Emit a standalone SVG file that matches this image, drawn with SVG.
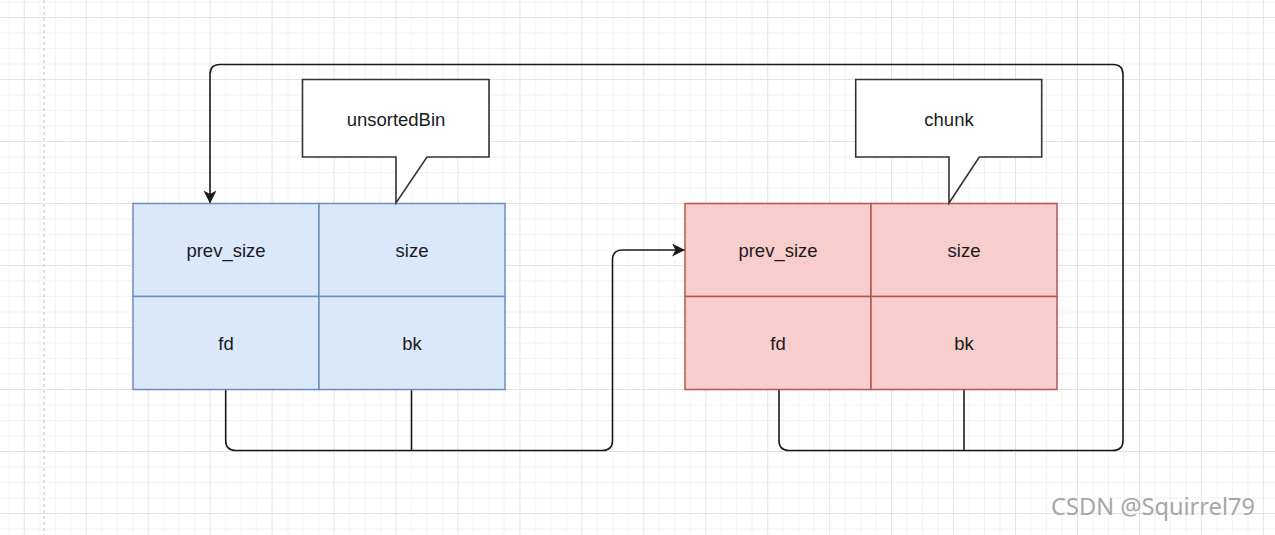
<svg xmlns="http://www.w3.org/2000/svg" width="1275" height="535" viewBox="0 0 1275 535">
<style>
.cellB{fill:#dae8fc;stroke:#6c8ebf;stroke-width:1.5}
.cellR{fill:#f8cecc;stroke:#b85450;stroke-width:1.5}
.lbl{font-family:"Liberation Sans",Arial,sans-serif;font-size:18.5px;fill:#1a1a1a;text-anchor:middle;dominant-baseline:central}
.callout{fill:#ffffff;stroke:#333333;stroke-width:1.6}
.edge{fill:none;stroke:#1a1a1a;stroke-width:1.6}
.wm{font-family:"Noto Sans","DejaVu Sans",sans-serif;font-size:23.6px;fill:#a6a6a6;stroke:#ffffff;stroke-width:0.6;paint-order:stroke;text-anchor:end}
</style>
<defs>
<pattern id="grid" patternUnits="userSpaceOnUse" x="23.8" y="17" width="61.95" height="62">
<rect x="15.49" y="0" width="1" height="62" fill="#f2f2f2"/>
<rect x="30.98" y="0" width="1" height="62" fill="#f2f2f2"/>
<rect x="46.46" y="0" width="1" height="62" fill="#f2f2f2"/>
<rect x="0" y="15.5" width="61.95" height="1" fill="#f2f2f2"/>
<rect x="0" y="31" width="61.95" height="1" fill="#f2f2f2"/>
<rect x="0" y="46.5" width="61.95" height="1" fill="#f2f2f2"/>
<rect x="0" y="0" width="1" height="62" fill="#e3e3e3"/>
<rect x="0" y="0" width="61.95" height="1" fill="#e3e3e3"/>
</pattern>
<marker id="arrow" markerUnits="userSpaceOnUse" markerWidth="15" markerHeight="15" refX="13" refY="6.5" orient="auto">
<path d="M0,0 L13,6.5 L0,13 L3.5,6.5 Z" fill="#1a1a1a"/>
</marker>
</defs>
<rect x="0" y="0" width="1275" height="535" fill="#ffffff"/>
<rect x="0" y="0" width="1275" height="535" fill="url(#grid)"/>
<line x1="44" y1="0" x2="44" y2="535" stroke="#c8c8c8" stroke-width="1.2" stroke-dasharray="3 3"/>

<g id="connectors">
<path class="edge" d="M225.7 389 V440.5 Q225.7 450.5 235.7 450.5 H602.5 Q612.5 450.5 612.5 440.5 V260 Q612.5 250 622.5 250 H685" marker-end="url(#arrow)"/>
<path class="edge" d="M411.5 389 V450.5"/>
<path class="edge" d="M779 389 V440.5 Q779 450.5 789 450.5 H1113 Q1123 450.5 1123 440.5 V74.5 Q1123 64.5 1113 64.5 H220 Q210 64.5 210 74.5 V203.5" marker-end="url(#arrow)"/>
<path class="edge" d="M964 389 V450.5"/>
</g>

<g id="blue-chunk">
<g id="blue-prev_size"><rect class="cellB" x="133" y="203.5" width="186" height="93"/><text class="lbl" x="226" y="250">prev_size</text></g>
<g id="blue-size"><rect class="cellB" x="319" y="203.5" width="186" height="93"/><text class="lbl" x="412" y="250">size</text></g>
<g id="blue-fd"><rect class="cellB" x="133" y="296.5" width="186" height="93"/><text class="lbl" x="226" y="343">fd</text></g>
<g id="blue-bk"><rect class="cellB" x="319" y="296.5" width="186" height="93"/><text class="lbl" x="412" y="343">bk</text></g>
</g>

<g id="red-chunk">
<g id="red-prev_size"><rect class="cellR" x="685" y="203.5" width="186" height="93"/><text class="lbl" x="778" y="250">prev_size</text></g>
<g id="red-size"><rect class="cellR" x="871" y="203.5" width="186" height="93"/><text class="lbl" x="964" y="250">size</text></g>
<g id="red-fd"><rect class="cellR" x="685" y="296.5" width="186" height="93"/><text class="lbl" x="778" y="343">fd</text></g>
<g id="red-bk"><rect class="cellR" x="871" y="296.5" width="186" height="93"/><text class="lbl" x="964" y="343">bk</text></g>
</g>

<g id="callout-unsortedBin">
<path class="callout" d="M302.5 79.5 H489 V157 H427 L396 203 V157 H302.5 Z"/>
<text class="lbl" x="396" y="119">unsortedBin</text>
</g>

<g id="callout-chunk">
<path class="callout" d="M855.7 79.5 H1041.7 V157 H979.3 L949 203 V157 H855.7 Z"/>
<text class="lbl" x="949" y="119">chunk</text>
</g>

<text class="wm" x="1255" y="515">CSDN @Squirrel79</text>
</svg>
